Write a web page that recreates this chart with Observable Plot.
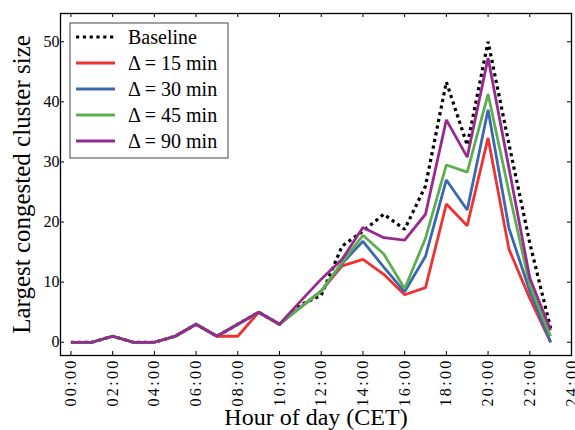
<!DOCTYPE html>
<html>
<head>
<meta charset="utf-8">
<script src="https://cdn.jsdelivr.net/npm/d3@7"></script>
<script src="https://cdn.jsdelivr.net/npm/@observablehq/plot@0.6"></script>
<style>
  html, body { margin: 0; padding: 0; background: white; }
  #chart { width: 575px; height: 430px; }
</style>
</head>
<body>
<div id="chart"></div>
<script>
// Hour of day (CET)
const hours = [0, 1, 2, 3, 4, 5, 6, 7, 8, 9, 10, 11, 12, 13, 14, 15, 16, 17, 18, 19, 20, 21, 22, 23];

// Largest congested cluster size per hour
const baseline = [0, 0, 1, 0, 0, 1, 3, 1, 3, 5, 3, 6.2, 7.8, 16, 18.5, 21.3, 18.8, 26, 43.3, 32.8, 50, 33, 16.5, 2.3];
const delta15  = [0, 0, 1, 0, 0, 1, 3, 1, 1, 5, 3, 5.8, 8.5, 12.7, 13.8, 11.3, 7.9, 9.1, 23, 19.4, 34, 15.5, 7.3, 0];
const delta30  = [0, 0, 1, 0, 0, 1, 3, 1, 3, 5, 3, 5.8, 8.5, 13.1, 16.8, 12.5, 8.4, 14.3, 27, 22, 38.7, 19, 8.5, 0];
const delta45  = [0, 0, 1, 0, 0, 1, 3, 1, 3, 5, 3, 5.8, 8.5, 13.3, 17.8, 14.7, 8.9, 17.3, 29.5, 28.3, 41.3, 25, 9.5, 1];
const delta90  = [0, 0, 1, 0, 0, 1, 3, 1, 3, 5, 3, 6.8, 10.5, 13.8, 19.1, 17.4, 17, 21.3, 37, 30.8, 47.3, 29, 10.7, 2];

const seriesNames  = ["Baseline", "Δ = 15 min", "Δ = 30 min", "Δ = 45 min", "Δ = 90 min"];
const seriesValues = [baseline, delta15, delta30, delta45, delta90];
const seriesColors = ["#000000", "#ee3131", "#3a68ae", "#5eae4f", "#962a8f"];

const yTicks = [0, 10, 20, 30, 40, 50];
const xTicks = [0, 2, 4, 6, 8, 10, 12, 14, 16, 18, 20, 22, 24];
const xTickLabels = ["00:00", "02:00", "04:00", "06:00", "08:00", "10:00", "12:00",
                     "14:00", "16:00", "18:00", "20:00", "22:00", "24:00"];

const xTitle = "Hour of day (CET)";
const yTitle = "Largest congested cluster size";

// long table: one row per (series, hour)
const rows = seriesValues.flatMap((vals, s) =>
  hours.map((h, i) => ({series: seriesNames[s], hour: h, value: vals[i]}))
);

const W = 575, H = 430;
const mL = 60, mR = 4, mT = 13, mB = 75;
const innerW = W - mL - mR, innerH = H - mT - mB;
const tickLen = 4;
const serif = "'Liberation Serif', 'DejaVu Serif', serif";

const lineMarks = seriesNames.map((name, s) =>
  Plot.line(rows.filter(d => d.series === name), {
    x: "hour", y: "value",
    stroke: seriesColors[s],
    strokeWidth: s === 0 ? 3.2 : 2.8,
    strokeDasharray: s === 0 ? "3.2,3.6" : null,
    strokeLinejoin: "miter",
    strokeLinecap: "butt"
  })
);

const chart = Plot.plot({
  width: W, height: H,
  marginLeft: mL, marginRight: mR, marginTop: mT, marginBottom: mB,
  style: {fontFamily: serif, background: "white", color: "black"},
  x: {domain: [-0.5, 24]},
  y: {domain: [-2.2, 54.7]},
  marks: [
    ...lineMarks,
    // inward tick marks on all four sides
    Plot.tickY(yTicks, {y: d => d, insetRight: innerW - tickLen, stroke: "black", strokeWidth: 1}),
    Plot.tickY(yTicks, {y: d => d, insetLeft: innerW - tickLen, stroke: "black", strokeWidth: 1}),
    Plot.tickX(xTicks, {x: d => d, insetTop: innerH - tickLen, stroke: "black", strokeWidth: 1}),
    Plot.tickX(xTicks, {x: d => d, insetBottom: innerH - tickLen, stroke: "black", strokeWidth: 1}),
    Plot.axisY({ticks: yTicks, tickSize: 0, tickPadding: 1, fontSize: 16, label: null}),
    Plot.axisX({
      ticks: xTicks, tickSize: 0, tickPadding: 3, fontSize: 16, label: null,
      tickRotate: -90,
      tickFormat: d => xTickLabels[xTicks.indexOf(d)]
    }),
    Plot.text([yTitle], {text: d => d, frameAnchor: "left", textAnchor: "middle", rotate: -90, dx: -39, fontSize: 25}),
    Plot.text([xTitle], {text: d => d, frameAnchor: "bottom", textAnchor: "middle", dy: 69, fontSize: 24}),
    Plot.frame({stroke: "black", strokeWidth: 1.3})
  ]
});

document.getElementById("chart").appendChild(chart);

// widen the x tick labels a little, as in typeset "00 : 00"
d3.select(chart).selectAll("g[aria-label='x-axis tick label'] text")
  .style("letter-spacing", "2.3px");

// legend box in the upper-left corner of the frame
const svg = d3.select(chart);
const lg = svg.append("g").attr("transform", "translate(70,23)");
lg.append("rect")
  .attr("width", 158).attr("height", 135)
  .attr("fill", "white").attr("stroke", "#444").attr("stroke-width", 1);
seriesNames.forEach((name, s) => {
  const y = 14 + s * 26;
  lg.append("line")
    .attr("x1", 6).attr("x2", s === 0 ? 44 : 45).attr("y1", y).attr("y2", y)
    .attr("stroke", seriesColors[s])
    .attr("stroke-width", s === 0 ? 3.2 : 2.8)
    .attr("stroke-dasharray", s === 0 ? "3.2,3.6" : null);
  lg.append("text")
    .attr("x", 58).attr("y", y).attr("dy", "0.35em")
    .attr("text-anchor", "start")
    .attr("font-family", serif).attr("font-size", 20)
    .attr("fill", "black")
    .text(name);
});
</script>
</body>
</html>
